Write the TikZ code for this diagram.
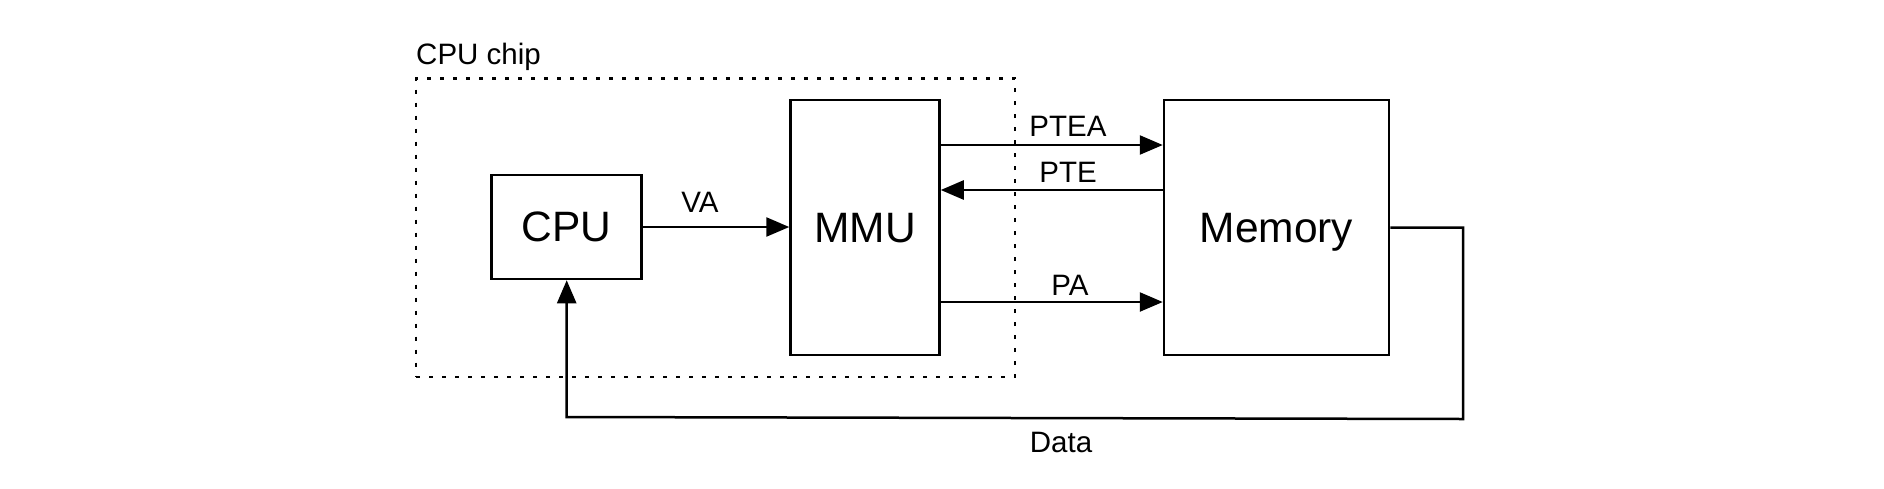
\documentclass[tikz,border=0pt]{standalone}
\usepackage{fontspec}
\setmainfont{Liberation Sans}
\usetikzlibrary{arrows.meta}
\tikzset{
  blk/.style={draw=black, line width=2.5pt, inner sep=0pt, text depth=0pt,
    font=\fontsize{42.5}{50}\selectfont},
  lbl/.style={inner sep=0pt, anchor=base, font=\fontsize{29.5}{35}\selectfont},
  arr/.style={line width=2.5pt, -{Triangle[length=23pt,width=19pt]}},
  chipbox/.style={draw=black, line width=2.7pt, dash pattern=on 4.2pt off 8.8pt, inner sep=0pt}
}
\begin{document}
\begin{tikzpicture}[x=1pt,y=-1pt]
\useasboundingbox[fill=white] (0,0) rectangle (1884,488);
% CPU chip boundary
\node[chipbox, minimum width=599pt, minimum height=298.7pt] (chip) at (715.5,227.65) {};
\node[lbl, anchor=base west] (chiplbl) at (416,64) {CPU chip};
% blocks
\node[blk, minimum width=150pt, minimum height=104pt] (CPU) at (566.7,227) {CPU};
\node[blk, minimum width=149pt, minimum height=255pt] (MMU) at (865,227.5) {MMU};
\node[blk, minimum width=225pt, minimum height=255pt] (Memory) at (1276.5,227.5) {Memory};
% connectors
\draw[arr] (CPU.east) -- (MMU.west |- CPU.east);
\node[lbl] (va) at (700,212) {VA};
\draw[arr] ([yshift=82.5pt]MMU.east) -- ([yshift=82.5pt]Memory.west);
\node[lbl] (ptea) at (1068,136) {PTEA};
\draw[arr] ([yshift=37.5pt]Memory.west) -- ([yshift=37.5pt]MMU.east);
\node[lbl] (pte) at (1068,182) {PTE};
\draw[arr] ([yshift=-74.5pt]MMU.east) -- ([yshift=-74.5pt]Memory.west);
\node[lbl] (pa) at (1070,295) {PA};
% data return path
\coordinate (d1) at (1463,227.5);
\coordinate (d2) at (1463,419);
\coordinate (d3) at (566.7,417);
\draw[arr] (Memory.east) -- (d1) -- (d2) -- (d3) -- (CPU.south);
\node[lbl] (data) at (1061,452) {Data};
\end{tikzpicture}
\end{document}
